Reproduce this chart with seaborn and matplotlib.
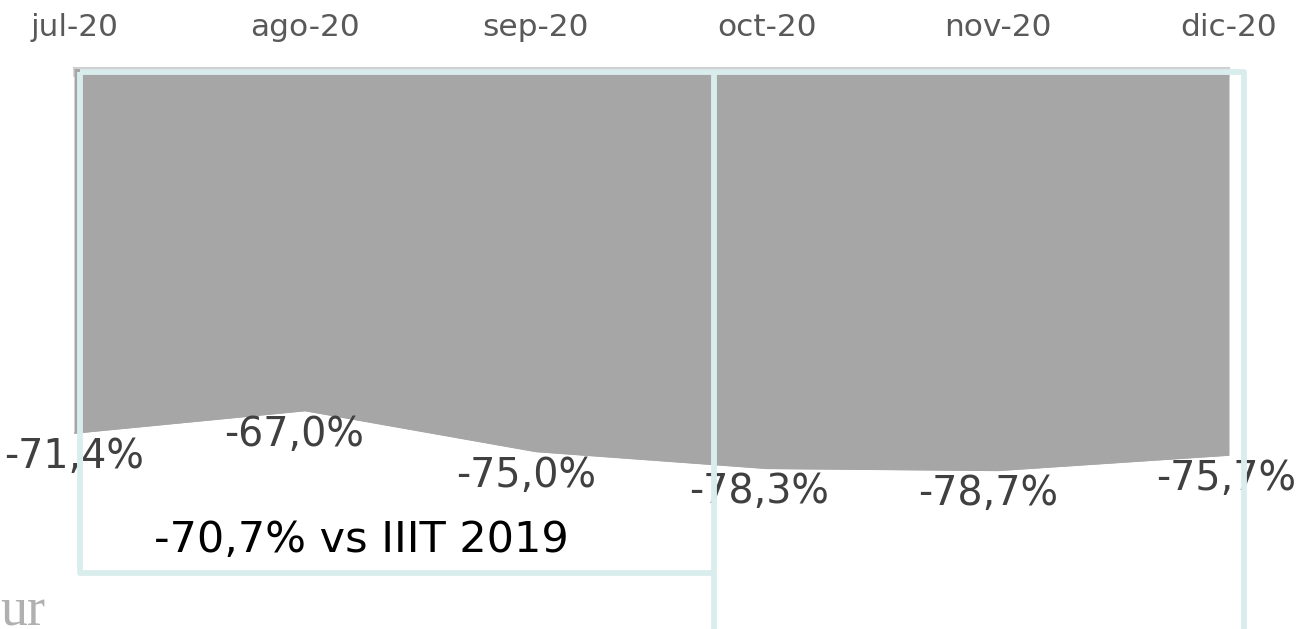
import matplotlib
matplotlib.use("Agg")
import matplotlib.pyplot as plt
from matplotlib.lines import Line2D
import seaborn as sns
import pandas as pd

# ---- data ----
months = ["jul-20", "ago-20", "sep-20", "oct-20", "nov-20", "dic-20"]
values = [-71.4, -67.0, -75.0, -78.3, -78.7, -75.7]
summary_text = "-70,7% vs IIIT 2019"
source_fragment = "ur"

sns.set_theme(style="white")
plt.rcParams["font.family"] = ["DejaVu Sans"]

W, H = 1299, 629
fig = plt.figure(figsize=(W / 100, H / 100), dpi=100)
fig.patch.set_facecolor("white")

left_px, right_px, top_px = 74, 1229, 68
ax = fig.add_axes([left_px / W, 0, (right_px - left_px) / W, 1 - top_px / H])
ax.set_facecolor("white")

df = pd.DataFrame({"x": range(len(months)), "month": months, "value": values})

area_color = "#a6a6a6"
ax.fill_between(df["x"], df["value"], 0, color=area_color, linewidth=0, zorder=2)
sns.lineplot(data=df, x="x", y="value", ax=ax, color=area_color, linewidth=1.0, zorder=3)

ax.set_xlim(0, len(months) - 1)
ax.set_ylim(-109.7, 0)

ax.xaxis.tick_top()
ax.set_xticks(df["x"])
ax.set_xticklabels(months)
ax.tick_params(axis="x", direction="in", length=6.5, width=1.5, color="#d9d9d9",
               pad=19, labelsize=22.5, labelcolor="#595959", top=True, bottom=False)
ax.set_yticks([])
ax.set_xlabel("")
ax.set_ylabel("")
for side in ["left", "right", "bottom"]:
    ax.spines[side].set_visible(False)
ax.spines["top"].set_color("#d0d0d0")
ax.spines["top"].set_linewidth(1.5)
ax.spines["top"].set_zorder(4)

# data labels (horizontal nudges in pixels, styling only)
label_dx = [0, -11, -10, -8, -10, -3]
for xi, v, dx in zip(df["x"], df["value"], label_dx):
    label = f"{v:.1f}%".replace(".", ",")
    ax.annotate(label, (xi, v), xytext=(dx, -24), textcoords="offset pixels",
                ha="center", va="center", fontsize=28.5, color="#404040",
                annotation_clip=False, zorder=5)

# summary text
fig.text(361 / W, 1 - 540 / H, summary_text, ha="center", va="center",
         fontsize=31, color="black", zorder=6)

# source fragment
fig.text(0 / W, 1 - 626 / H, source_fragment, ha="left", va="baseline",
         fontsize=39, color="#b0b0b0", family=["Liberation Serif", "DejaVu Serif"])

# cyan outline frames
cyan = "#daeded"
def fx(px):
    return px / W
def fy(py):
    return 1 - py / H

paths = [
    [(80, 72), (80, 573), (713.5, 573)],
    [(80, 72), (1243.5, 72), (1243.5, 650)],
    [(713.5, 72), (713.5, 650)],
]
for p in paths:
    xs = [fx(a) for a, b in p]
    ys = [fy(b) for a, b in p]
    fig.add_artist(Line2D(xs, ys, transform=fig.transFigure, color=cyan,
                          linewidth=4.2, solid_joinstyle="round",
                          solid_capstyle="butt", zorder=10))

fig.savefig("out.png", dpi=100, facecolor="white")
